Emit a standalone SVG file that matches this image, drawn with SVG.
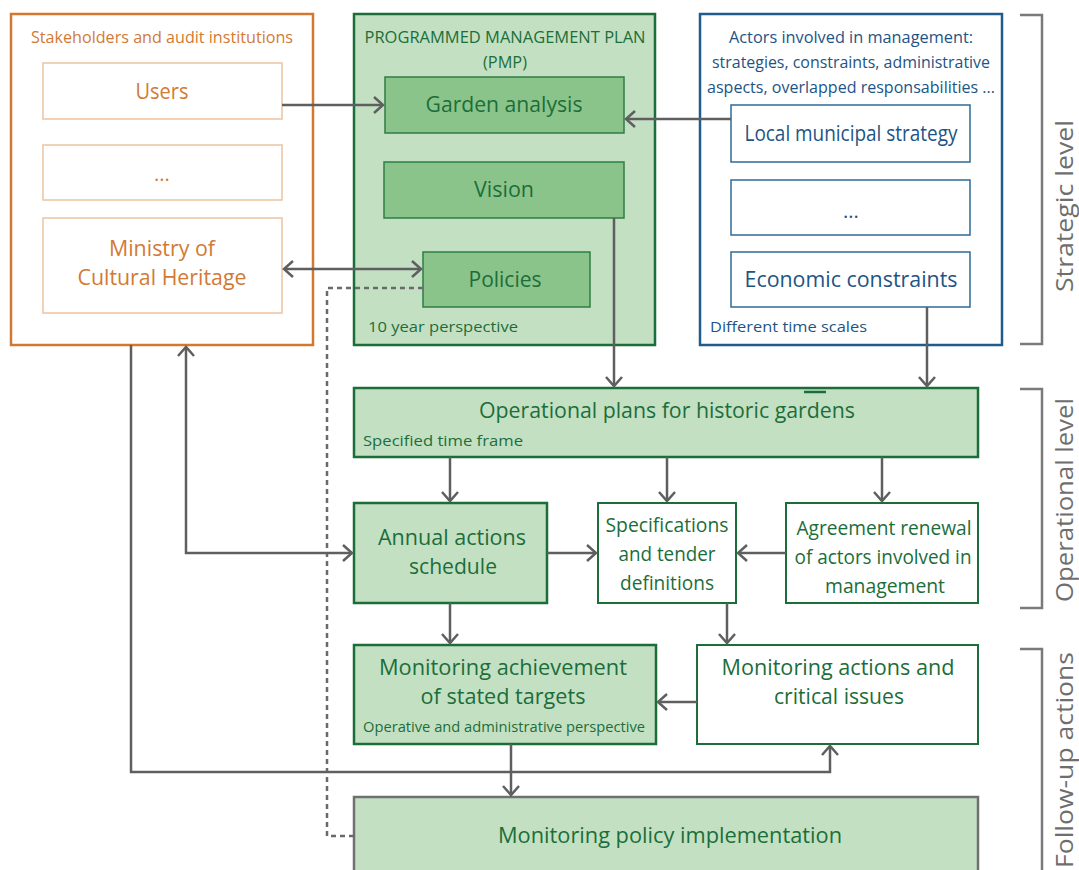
<svg xmlns="http://www.w3.org/2000/svg" width="1079" height="870" viewBox="0 0 1079 870">
<style>
text{font-family:"Open Sans","Noto Sans","Liberation Sans",sans-serif;}
.or{fill:#d27a34;}
.gr{fill:#1b6e3a;}
.bl{fill:#1d5485;}
.gy{fill:#6e6e6e;}
.c{text-anchor:middle;}
.outerO{fill:#fff;stroke:#d4782f;stroke-width:2.5;}
.innerO{fill:#fff;stroke:#ecc3a2;stroke-width:1.5;}
.outerG{fill:#c4e0c3;stroke:#1b6e3a;stroke-width:2.5;}
.midG{fill:#8bc48a;stroke:#2e7d46;stroke-width:1.5;}
.lightG{fill:#c4e0c3;stroke:#1b6e3a;stroke-width:2.5;}
.whiteG{fill:#fff;stroke:#1b6e3a;stroke-width:2;}
.outerB{fill:#fff;stroke:#1f5b8b;stroke-width:2.5;}
.innerB{fill:#fff;stroke:#2f6a96;stroke-width:1.5;}
.conn{fill:none;stroke:#5f5f5f;stroke-width:2.5;}
.dash{fill:none;stroke:#6a6a6a;stroke-width:2.5;stroke-dasharray:5 4;}
.brk{fill:none;stroke:#7a7a7a;stroke-width:2.5;}
</style>
<defs>
<marker id="arr" viewBox="-12 -10 14 20" refX="0" refY="0" markerWidth="14" markerHeight="20" markerUnits="userSpaceOnUse" orient="auto-start-reverse">
<path d="M-9,-8 L0,0 L-9,8" fill="none" stroke="#5f5f5f" stroke-width="2.5"/>
</marker>
</defs>

<g id="stakeholders">
<rect class="outerO" x="11" y="14" width="302" height="331"/>
<text class="or c" x="162" y="43" font-size="16" textLength="262" lengthAdjust="spacingAndGlyphs">Stakeholders and audit institutions</text>
</g>
<g id="users">
<rect class="innerO" x="43" y="63" width="239" height="56"/>
<text class="or c" x="162" y="99" font-size="21" textLength="53" lengthAdjust="spacingAndGlyphs">Users</text>
</g>
<g id="stake-etc">
<rect class="innerO" x="43" y="145" width="239" height="55"/>
<text class="or c" x="162" y="181" font-size="20">...</text>
</g>
<g id="ministry">
<rect class="innerO" x="43" y="218" width="239" height="95"/>
<text class="or c" x="162" y="256" font-size="21" textLength="106" lengthAdjust="spacingAndGlyphs">Ministry of</text>
<text class="or c" x="162" y="285" font-size="21" textLength="169" lengthAdjust="spacingAndGlyphs">Cultural Heritage</text>
</g>

<g id="pmp">
<rect class="outerG" x="354" y="14" width="301" height="331"/>
<text class="gr c" x="505" y="43" font-size="16" textLength="281" lengthAdjust="spacingAndGlyphs">PROGRAMMED MANAGEMENT PLAN</text>
<text class="gr c" x="505" y="68" font-size="16" textLength="44" lengthAdjust="spacingAndGlyphs">(PMP)</text>
<text class="gr" x="368" y="332" font-size="15" textLength="150" lengthAdjust="spacingAndGlyphs">10 year perspective</text>
</g>
<g id="garden">
<rect class="midG" x="385" y="77" width="239" height="56"/>
<text class="gr c" x="504" y="112" font-size="21" textLength="157" lengthAdjust="spacingAndGlyphs">Garden analysis</text>
</g>
<g id="vision">
<rect class="midG" x="384" y="162" width="240" height="56"/>
<text class="gr c" x="504" y="197" font-size="21" textLength="60" lengthAdjust="spacingAndGlyphs">Vision</text>
</g>
<g id="policies">
<rect class="midG" x="423" y="252" width="167" height="55"/>
<text class="gr c" x="505" y="287" font-size="21" textLength="73" lengthAdjust="spacingAndGlyphs">Policies</text>
</g>

<g id="actors">
<rect class="outerB" x="700" y="14" width="302" height="331"/>
<text class="bl c" x="851" y="43" font-size="16.5" textLength="244" lengthAdjust="spacingAndGlyphs">Actors involved in management:</text>
<text class="bl c" x="851" y="68" font-size="16.5" textLength="278" lengthAdjust="spacingAndGlyphs">strategies, constraints, administrative</text>
<text class="bl c" x="851" y="93" font-size="16.5" textLength="288" lengthAdjust="spacingAndGlyphs">aspects, overlapped responsabilities ...</text>
<text class="bl" x="710" y="332" font-size="15" textLength="157" lengthAdjust="spacingAndGlyphs">Different time scales</text>
</g>
<g id="local">
<rect class="innerB" x="731" y="105" width="239" height="57"/>
<text class="bl c" x="851" y="141" font-size="21" textLength="213" lengthAdjust="spacingAndGlyphs">Local municipal strategy</text>
</g>
<g id="actors-etc">
<rect class="innerB" x="731" y="180" width="239" height="55"/>
<text class="bl c" x="851" y="218" font-size="20">...</text>
</g>
<g id="economic">
<rect class="innerB" x="731" y="252" width="239" height="55"/>
<text class="bl c" x="851" y="287" font-size="21" textLength="213" lengthAdjust="spacingAndGlyphs">Economic constraints</text>
</g>

<g id="operational">
<rect class="lightG" x="354" y="388" width="624" height="69"/>
<line x1="804" y1="392" x2="826" y2="392" stroke="#1b6e3a" stroke-width="2.5"/>
<text class="gr c" x="667" y="418" font-size="21" textLength="376" lengthAdjust="spacingAndGlyphs">Operational plans for historic gardens</text>
<text class="gr" x="363" y="446" font-size="15" textLength="160" lengthAdjust="spacingAndGlyphs">Specified time frame</text>
</g>
<g id="annual">
<rect class="lightG" x="354" y="503" width="193" height="100"/>
<text class="gr c" x="452" y="545" font-size="21" textLength="148" lengthAdjust="spacingAndGlyphs">Annual actions</text>
<text class="gr c" x="453" y="574" font-size="21" textLength="88" lengthAdjust="spacingAndGlyphs">schedule</text>
</g>
<g id="specifications">
<rect class="whiteG" x="598" y="503" width="138" height="100"/>
<text class="gr c" x="667" y="532" font-size="20" textLength="123" lengthAdjust="spacingAndGlyphs">Specifications</text>
<text class="gr c" x="667" y="561" font-size="20" textLength="97" lengthAdjust="spacingAndGlyphs">and tender</text>
<text class="gr c" x="667" y="590" font-size="20" textLength="94" lengthAdjust="spacingAndGlyphs">definitions</text>
</g>
<g id="agreement">
<rect class="whiteG" x="786" y="503" width="192" height="100"/>
<text class="gr c" x="884" y="535" font-size="20" textLength="175" lengthAdjust="spacingAndGlyphs">Agreement renewal</text>
<text class="gr c" x="883" y="564" font-size="20" textLength="177" lengthAdjust="spacingAndGlyphs">of actors involved in</text>
<text class="gr c" x="885" y="593" font-size="20" textLength="120" lengthAdjust="spacingAndGlyphs">management</text>
</g>
<g id="mon-achievement">
<rect class="lightG" x="354" y="645" width="302" height="99"/>
<text class="gr c" x="503" y="675" font-size="21" textLength="248" lengthAdjust="spacingAndGlyphs">Monitoring achievement</text>
<text class="gr c" x="503" y="704" font-size="21" textLength="165" lengthAdjust="spacingAndGlyphs">of stated targets</text>
<text class="gr c" x="504" y="732" font-size="14" textLength="282" lengthAdjust="spacingAndGlyphs">Operative and administrative perspective</text>
</g>
<g id="mon-actions">
<rect class="whiteG" x="697" y="645" width="281" height="99"/>
<text class="gr c" x="838" y="675" font-size="21" textLength="233" lengthAdjust="spacingAndGlyphs">Monitoring actions and</text>
<text class="gr c" x="839" y="704" font-size="21" textLength="130" lengthAdjust="spacingAndGlyphs">critical issues</text>
</g>
<g id="mon-policy">
<rect x="354" y="797" width="624" height="90" fill="#c4e0c3" stroke="#707070" stroke-width="2.5"/>
<text class="gr c" x="670" y="843" font-size="21" textLength="344" lengthAdjust="spacingAndGlyphs">Monitoring policy implementation</text>
</g>

<g id="levels">
<path class="brk" d="M1020,15 H1042 V344 H1020"/>
<text class="gy c" transform="translate(1073,206) rotate(-90)" font-size="24" textLength="172" lengthAdjust="spacingAndGlyphs">Strategic level</text>
<path class="brk" d="M1020,389 H1042 V608 H1020"/>
<text class="gy c" transform="translate(1073,500) rotate(-90)" font-size="24" textLength="204" lengthAdjust="spacingAndGlyphs">Operational level</text>
<path class="brk" d="M1020,649 H1042 V880"/>
<text class="gy c" transform="translate(1073,760) rotate(-90)" font-size="24" textLength="216" lengthAdjust="spacingAndGlyphs">Follow-up actions</text>
</g>

<g id="connectors">
<path class="conn" d="M282,105 H383" marker-end="url(#arr)"/>
<path class="conn" d="M731,119 H626" marker-end="url(#arr)"/>
<path class="conn" d="M284,269 H421" marker-start="url(#arr)" marker-end="url(#arr)"/>
<path class="dash" d="M423,288 H327 V836 H354"/>
<path class="conn" d="M614,218 V386" marker-end="url(#arr)"/>
<path class="conn" d="M927,307 V386" marker-end="url(#arr)"/>
<path class="conn" d="M450,457 V501" marker-end="url(#arr)"/>
<path class="conn" d="M667,457 V501" marker-end="url(#arr)"/>
<path class="conn" d="M882,457 V501" marker-end="url(#arr)"/>
<path class="conn" d="M547,553 H596" marker-end="url(#arr)"/>
<path class="conn" d="M786,553 H738" marker-end="url(#arr)"/>
<path class="conn" d="M450,603 V643" marker-end="url(#arr)"/>
<path class="conn" d="M727,603 V643" marker-end="url(#arr)"/>
<path class="conn" d="M697,702 H658" marker-end="url(#arr)"/>
<path class="conn" d="M511,744 V795" marker-end="url(#arr)"/>
<path class="conn" d="M131,345 V772 H830 V746" marker-end="url(#arr)"/>
<path class="conn" d="M186,347 V553 H352" marker-start="url(#arr)" marker-end="url(#arr)"/>
</g>
</svg>
